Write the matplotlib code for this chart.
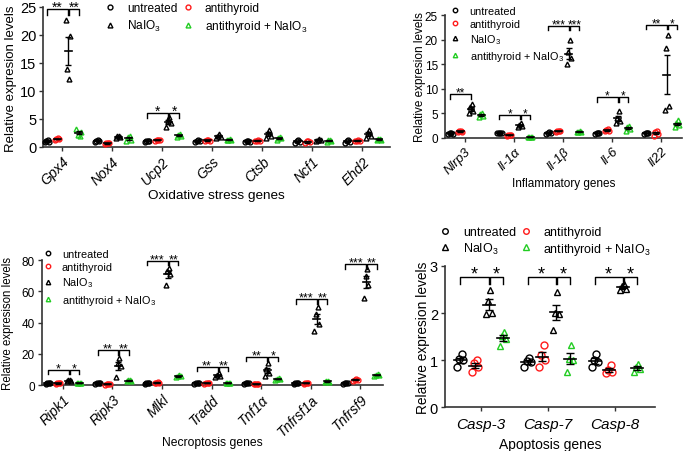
import matplotlib
matplotlib.use("Agg")
import matplotlib.pyplot as plt
import numpy as np
from matplotlib.lines import Line2D

plt.rcParams["font.family"] = ["Liberation Sans", "DejaVu Sans"]
plt.rcParams["mathtext.fontset"] = "custom"
plt.rcParams["mathtext.rm"] = "Liberation Sans"
plt.rcParams["mathtext.default"] = "regular"

GROUPS = ["untreated", "antithyroid", "NaIO$_3$", "antithyroid + NaIO$_3$"]

# ---- Oxidative stress genes (4 mice per group) ----
OX_GENES = ["Gpx4", "Nox4", "Ucp2", "Gss", "Ctsb", "Ncf1", "Ehd2"]
OX_UNTREATED = [[0.8, 0.9, 1.0, 1.2], [0.9, 1.0, 1.1, 1.3], [0.9, 1.0, 1.1, 1.1],
                [0.8, 1.0, 1.1, 1.2], [0.8, 0.9, 1.0, 1.1], [0.7, 0.9, 1.1, 1.2],
                [0.7, 0.9, 1.0, 1.2]]
OX_ANTI = [[1.3, 1.4, 1.4, 1.5], [0.5, 0.6, 0.7, 0.6], [1.1, 1.2, 1.3, 1.3],
           [1.0, 1.1, 1.2, 1.2], [1.0, 1.1, 1.1, 1.2], [0.6, 0.8, 1.0, 1.1],
           [1.0, 1.1, 1.1, 1.2]]
OX_NAIO3 = [[22.7, 19.7, 13.9, 12.1], [1.5, 1.7, 1.9, 2.0], [3.5, 4.2, 4.6, 5.3],
            [1.6, 1.8, 2.0, 2.2], [1.5, 2.0, 2.5, 3.0], [1.0, 1.2, 1.3, 1.4],
            [1.6, 2.0, 2.5, 3.0]]
OX_COMBO = [[3.2, 2.7, 2.1, 2.0], [1.0, 1.3, 1.8, 1.9], [1.8, 2.0, 2.1, 2.2],
            [1.2, 1.3, 1.3, 1.4], [1.3, 1.5, 1.6, 1.8], [0.9, 1.0, 1.2, 1.3],
            [1.2, 1.3, 1.4, 1.4]]
OX_SIG_LEFT = ["**", "", "*", "", "", "", ""]
OX_SIG_RIGHT = ["**", "", "*", "", "", "", ""]
OX_SIG_Y = [24.5, 0, 6.1, 0, 0, 0, 0]

# ---- Inflammatory genes ----
INF_GENES = ["Nlrp3", "Il-1α", "Il-1β", "Il-6", "Il22"]
INF_UNTREATED = [[0.8, 0.9, 1.0, 1.1], [1.0, 1.0, 1.1, 1.1], [0.9, 1.0, 1.1, 1.2],
                 [0.9, 1.0, 1.0, 1.1], [0.9, 1.0, 1.0, 1.1]]
INF_ANTI = [[1.2, 1.3, 1.4, 1.4], [0.5, 0.6, 0.6, 0.7], [1.3, 1.4, 1.5, 1.5],
            [1.4, 1.5, 1.7, 1.8], [0.5, 0.9, 1.2, 1.5]]
INF_NAIO3 = [[5.0, 5.5, 6.3, 7.0], [2.2, 2.4, 2.6, 3.0], [15.0, 16.2, 17.5, 20.0],
             [3.0, 3.5, 4.0, 5.5], [5.6, 6.6, 18.4, 21.0]]
INF_COMBO = [[4.2, 4.5, 4.8, 5.0], [0.2, 0.2, 0.3, 0.3], [1.2, 1.3, 1.3, 1.4],
             [1.5, 1.9, 2.2, 2.5], [2.2, 2.6, 3.0, 3.6]]
INF_SIG_LEFT = ["**", "*", "***", "*", "**"]
INF_SIG_RIGHT = ["", "*", "***", "*", "*"]
INF_SIG_Y = [8.9, 4.7, 22.8, 8.3, 23.0]

# ---- Necroptosis genes ----
NEC_GENES = ["Ripk1", "Ripk3", "Mlkl", "Tradd", "Tnf1α", "Tnfrsf1a", "Tnfrsf9"]
NEC_UNTREATED = [[0.9, 1.0, 1.0, 1.1], [0.9, 1.0, 1.0, 1.1], [0.9, 1.0, 1.0, 1.1],
                 [0.9, 1.0, 1.0, 1.1], [0.9, 1.0, 1.0, 1.1], [0.9, 1.0, 1.0, 1.1],
                 [0.9, 1.0, 1.0, 1.1]]
NEC_ANTI = [[0.8, 1.0, 1.1, 1.2], [0.3, 0.5, 0.5, 0.6], [1.3, 1.5, 1.6, 1.7],
            [0.9, 1.0, 1.1, 1.1], [0.5, 0.6, 0.6, 0.7], [0.9, 1.0, 1.1, 1.2],
            [2.5, 3.0, 3.5, 4.0]]
NEC_NAIO3 = [[2.5, 2.8, 3.0, 3.2], [5.0, 12.0, 14.0, 17.0], [64.0, 71.0, 73.0, 75.0],
             [5.0, 5.5, 6.5, 7.5], [5.5, 8.0, 10.0, 14.0], [34.5, 39.0, 45.5, 50.0],
             [56.0, 64.0, 70.0, 74.0]]
NEC_COMBO = [[1.2, 1.3, 1.4, 1.5], [2.5, 2.8, 3.0, 3.2], [5.0, 5.5, 6.0, 6.5],
             [1.3, 1.4, 1.5, 1.5], [3.5, 3.8, 4.0, 4.2], [2.0, 2.2, 2.4, 2.6],
             [6.0, 6.3, 6.6, 7.0]]
NEC_SIG_LEFT = ["*", "**", "***", "**", "**", "***", "***"]
NEC_SIG_RIGHT = ["*", "**", "**", "**", "*", "**", "**"]
NEC_SIG_Y = [9.8, 22.4, 79.5, 11.7, 18.1, 55.0, 77.5]

# ---- Apoptosis genes ----
APO_GENES = ["Casp-3", "Casp-7", "Casp-8"]
APO_UNTREATED = [[0.85, 1.0, 1.02, 1.12], [0.85, 0.95, 0.98, 1.05], [0.85, 0.95, 1.0, 1.12]]
APO_ANTI = [[0.75, 0.85, 0.93, 1.0], [0.85, 1.0, 1.1, 1.32], [0.72, 0.75, 0.78, 0.9]]
APO_NAIO3 = [[1.97, 2.0, 2.25, 2.5], [1.63, 1.97, 2.0, 2.45], [2.5, 2.52, 2.58, 2.62]]
APO_COMBO = [[1.3, 1.45, 1.52, 1.6], [0.75, 1.0, 1.02, 1.32], [0.75, 0.8, 0.85, 0.92]]
APO_SIG_LEFT = ["*", "*", "*"]
APO_SIG_RIGHT = ["*", "*", "*"]
APO_SIG_Y = [2.77, 2.77, 2.77]

COLORS = ["black", "#ff1a1a", "black", "#22cc22"]
MARKERS = ["o", "o", "^", "^"]
JITTER = [-0.045, 0.045, -0.015, 0.02]


def draw_panel(ax, genes, data, sig_left, sig_right, sig_y, offsets, ms, mean_w,
               cap_w, tick_len, star_size, ylim, yticks, xlim, tick_fs):
    x = np.arange(len(genes))
    for g, (vals, off) in enumerate(zip(data, offsets)):
        for i, pts in enumerate(vals):
            xc = x[i] + off
            px = [xc + JITTER[k] for k in range(len(pts))]
            ax.plot(px, pts, linestyle="none", marker=MARKERS[g], ms=ms,
                    mfc="none", mec=COLORS[g], mew=1.0, zorder=3, clip_on=False)
            m = np.mean(pts)
            sem = np.std(pts, ddof=1) / np.sqrt(len(pts))
            ax.plot([xc - mean_w, xc + mean_w], [m, m], color="black", lw=1.2, zorder=4)
            ax.errorbar(xc, m, yerr=sem, fmt="none", ecolor="black", elinewidth=1.0,
                        capsize=cap_w, capthick=1.0, zorder=4)
    # significance brackets with stars
    for i in range(len(genes)):
        h = sig_y[i]
        xs = [x[i] + offsets[0], x[i] + offsets[2], x[i] + offsets[3]]
        pairs = [(xs[0], xs[1], sig_left[i]), (xs[1] + 0.02, xs[2], sig_right[i])]
        for xa, xb, stars in pairs:
            if not stars:
                continue
            ax.plot([xa, xa, xb, xb], [h - tick_len, h, h, h - tick_len],
                    color="black", lw=1.0, clip_on=False)
            ax.annotate(stars, ((xa + xb) / 2, h), xytext=(0, -0.12 * star_size),
                        textcoords="offset points", ha="center", va="baseline",
                        fontsize=star_size, annotation_clip=False)
    ax.set_xlim(*xlim)
    ax.set_ylim(*ylim)
    ax.set_yticks(yticks)
    ax.set_xticks(x)
    for s in ["top", "right"]:
        ax.spines[s].set_visible(False)
    for s in ["left", "bottom"]:
        ax.spines[s].set_linewidth(1.2)
        ax.spines[s].set_color("#333333")
    ax.tick_params(axis="both", labelsize=tick_fs, length=3, width=1, color="#333333",
                   pad=2)


def legend_handles(ms):
    return [Line2D([], [], linestyle="none", marker=MARKERS[g], ms=ms, mfc="none",
                   mec=COLORS[g], mew=1.0, label=GROUPS[g]) for g in range(4)]


fig = plt.figure(figsize=(6.85, 4.52), dpi=100)

offs = [-0.3, -0.1, 0.12, 0.33]

# Oxidative stress
ax1 = fig.add_axes([0.063, 0.673, 0.507, 0.310])
draw_panel(ax1, OX_GENES, [OX_UNTREATED, OX_ANTI, OX_NAIO3, OX_COMBO],
           OX_SIG_LEFT, OX_SIG_RIGHT, OX_SIG_Y, offs, 3.5, 0.07, 2, 0.9, 10,
           (0, 25), [0, 5, 10, 15, 20, 25], (-0.38, 6.56), 10.5)
ax1.set_xticklabels(OX_GENES, rotation=45, ha="right", rotation_mode="anchor",
                    style="italic", fontsize=10)
ax1.set_xlabel("Oxidative stress genes", fontsize=9.7, va="top")
ax1.xaxis.set_label_coords(0.5, -0.30)
ax1.set_ylabel("Relative expresion levels", fontsize=9.5)
ax1.yaxis.set_label_coords(-0.075, 0.49)
h = legend_handles(3.5)
fig.legend([h[0], h[2], h[1], h[3]], [GROUPS[0], GROUPS[2], GROUPS[1], GROUPS[3]],
           ncol=2, loc="upper left", bbox_to_anchor=(0.152, 0.993), frameon=False,
           fontsize=8.6, handletextpad=0.9, columnspacing=0.4, labelspacing=0.35,
           handlelength=1.0, borderpad=0, borderaxespad=0)

# Inflammatory
ax2 = fig.add_axes([0.6496, 0.6925, 0.346, 0.272])
draw_panel(ax2, INF_GENES, [INF_UNTREATED, INF_ANTI, INF_NAIO3, INF_COMBO],
           INF_SIG_LEFT, INF_SIG_RIGHT, INF_SIG_Y, offs, 3.5, 0.07, 2, 0.9, 8.5,
           (0, 25), [0, 5, 10, 15, 20, 25], (-0.41, 4.43), 8.5)
ax2.set_xticklabels(INF_GENES, rotation=45, ha="right", rotation_mode="anchor",
                    style="italic", fontsize=9.5)
ax2.set_xlabel("Inflammatory genes", fontsize=8.5, va="top")
ax2.xaxis.set_label_coords(0.5, -0.32)
ax2.set_ylabel("Relative expresion levels", fontsize=8.5)
ax2.yaxis.set_label_coords(-0.08, 0.5)
fig.legend(handles=legend_handles(3.2), loc="upper left", bbox_to_anchor=(0.657, 0.985),
           frameon=False, fontsize=7.8, handletextpad=0.8, labelspacing=0.28,
           handlelength=1.0, borderpad=0, borderaxespad=0)

# Necroptosis
ax3 = fig.add_axes([0.0613, 0.146, 0.498, 0.2765])
draw_panel(ax3, NEC_GENES, [NEC_UNTREATED, NEC_ANTI, NEC_NAIO3, NEC_COMBO],
           NEC_SIG_LEFT, NEC_SIG_RIGHT, NEC_SIG_Y, offs, 3.5, 0.07, 2, 3.0, 9,
           (0, 80), [0, 20, 40, 60, 80], (-0.42, 6.46), 8.5)
ax3.set_xticklabels(NEC_GENES, rotation=45, ha="right", rotation_mode="anchor",
                    style="italic", fontsize=10)
ax3.set_xlabel("Necroptosis genes", fontsize=8.7, va="top")
ax3.xaxis.set_label_coords(0.5, -0.41)
ax3.set_ylabel("Relative expresison levels", fontsize=8.3)
ax3.yaxis.set_label_coords(-0.082, 0.5)
fig.legend(handles=legend_handles(3.2), loc="upper left", bbox_to_anchor=(0.062, 0.447),
           frameon=False, fontsize=7.8, handletextpad=0.8, labelspacing=0.3,
           handlelength=1.0, borderpad=0, borderaxespad=0)

# Apoptosis
ax4 = fig.add_axes([0.6496, 0.0973, 0.3066, 0.312])
draw_panel(ax4, APO_GENES, [APO_UNTREATED, APO_ANTI, APO_NAIO3, APO_COMBO],
           APO_SIG_LEFT, APO_SIG_RIGHT, APO_SIG_Y, [-0.3, -0.08, 0.12, 0.33],
           5, 0.09, 3, 0.15, 13, (0, 3), [0, 1, 2, 3], (-0.53, 2.6), 10.5)
ax4.set_xticklabels(APO_GENES, style="italic", fontsize=11)
ax4.tick_params(axis="x", pad=4)
ax4.set_xlabel("Apoptosis genes", fontsize=10, va="top")
ax4.xaxis.set_label_coords(0.5, -0.215)
ax4.set_ylabel("Relative expresion levels", fontsize=9.9)
ax4.yaxis.set_label_coords(-0.071, 0.5)
h = legend_handles(4)
fig.legend([h[0], h[2], h[1], h[3]], [GROUPS[0], GROUPS[2], GROUPS[1], GROUPS[3]],
           ncol=2, loc="upper left", bbox_to_anchor=(0.641, 0.497), frameon=False,
           fontsize=9, handletextpad=0.9, columnspacing=0.3, labelspacing=0.2,
           handlelength=1.0, borderpad=0, borderaxespad=0)

fig.savefig("out.png", dpi=100)
